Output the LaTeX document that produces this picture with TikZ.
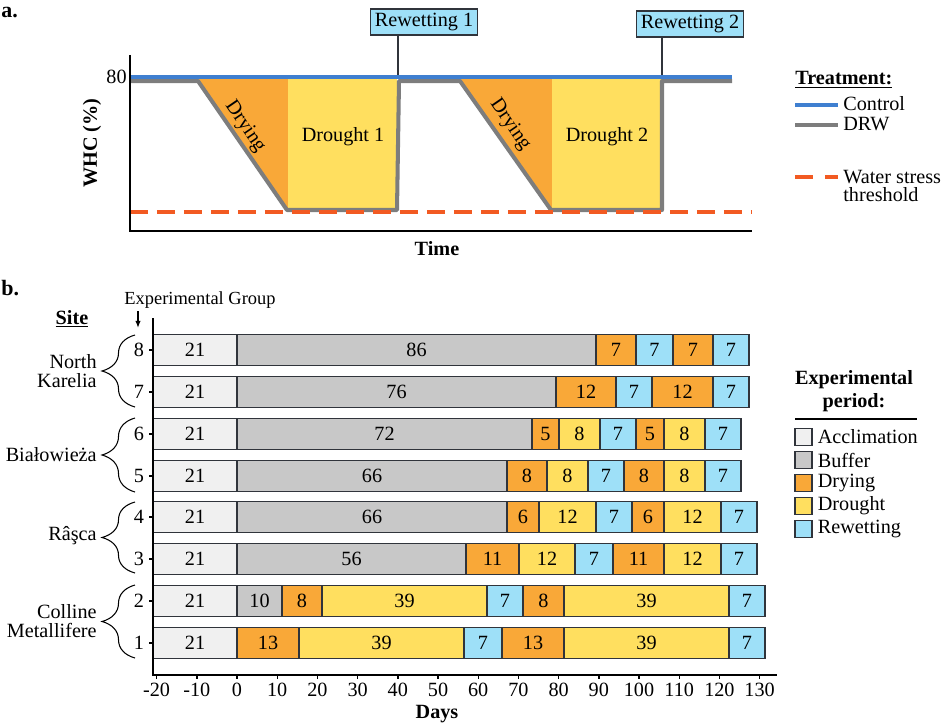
\documentclass[tikz,border=0pt]{standalone}
\usepackage{fontspec}
\setmainfont{Liberation Serif}
\usepackage{tikz}
\usetikzlibrary{arrows.meta,calc,positioning,decorations.pathreplacing}
\definecolor{accgray}{HTML}{F0F0F0}
\definecolor{bufgray}{HTML}{C8C8C8}
\definecolor{dryorange}{HTML}{F9A838}
\definecolor{drtyellow}{HTML}{FFDF5F}
\definecolor{rewblue}{HTML}{9EE0F8}
\definecolor{ctrlblue}{HTML}{3F7FD0}
\definecolor{drwgray}{HTML}{7D7D7D}
\definecolor{stressred}{HTML}{F25A22}
\definecolor{darkgray}{HTML}{30343B}
\tikzset{
  txt/.style={font=\fontsize{11.5}{13}\selectfont, inner sep=0pt},
  bold/.style={txt, font=\fontsize{11.5}{13}\selectfont\bfseries},
  axisline/.style={black, line width=0.8pt},
  ctrlline/.style={ctrlblue, line width=2.4pt},
  drwline/.style={drwgray, line width=2.3pt, line join=round},
  stressline/.style={stressred, line width=2.3pt, dash pattern=on 0.36cm off 0.18cm},
  rewbox/.style={txt, draw=darkgray, fill=rewblue, inner xsep=2.5pt, minimum height=0.52cm, line width=0.6pt},
  segbox/.style={draw=darkgray, line width=0.6pt},
  sitebrace/.style={decorate, decoration={brace, amplitude=0.66cm}, line width=0.6pt},
  legbox/.style={draw=darkgray, line width=0.6pt, minimum size=0.34cm, inner sep=0pt}
}

\begin{document}
\begin{tikzpicture}[x=0.02cm, y=-0.02cm]
  \useasboundingbox (0,0) rectangle (945,726);
  \node[bold, anchor=west, font=\fontsize{12.5}{14}\selectfont\bfseries] (panela) at (1,13) {a.};
  \fill[dryorange] (198,79) -- (288,79) -- (288,210) -- (287,210) -- cycle;
  \fill[drtyellow] (288,79) rectangle (397,210);
  \fill[dryorange] (460,79) -- (552,79) -- (552,210) -- (551,210) -- cycle;
  \fill[drtyellow] (552,79) rectangle (662,210);
  \draw[drwline] (130,81) -- (198,81) -- (287,210) -- (397,210) -- (399,81) -- (460,81) -- (551,210) -- (662,210) -- (662,81) -- (732,81);
  \node[txt, rotate=-55.6] (dry1) at (245,127) {Drying};
  \node[txt, rotate=-55.6] (dry2) at (510,125) {Drying};
  \node[txt] (drt1) at (343,137) {Drought 1};
  \node[txt] (drt2) at (607,137) {Drought 2};
  \node[rewbox] (rw1) at (424,22) {Rewetting 1};
  \node[rewbox] (rw2) at (690,24) {Rewetting 2};
  \coordinate (rw1foot) at (398,77);
  \coordinate (rw2foot) at (662,77);
  \draw[darkgray, line width=0.6pt] (rw1.south -| rw1foot) -- (rw1foot);
  \draw[darkgray, line width=0.6pt] (rw2.south -| rw2foot) -- (rw2foot);
  \draw[ctrlline] (130,77) -- (732,77);
  \draw[stressline] (130,212) -- (752,212);
  \draw[axisline] (130,55) -- (130,231) -- (752,231);
  \node[txt, anchor=east] (whc80) at (127,77) {80};
  \node[bold, rotate=90] (whc) at (92,143) {WHC (\%)};
  \node[bold] (time) at (437,249) {Time};
  \node[bold, anchor=west] (treat) at (795,80) {\underline{Treatment:}};
  \coordinate (ctrlkey) at (795,105);
  \coordinate (drwkey) at (795,125);
  \coordinate (stresskey) at (795,177);
  \draw[ctrlline] (ctrlkey) -- ++(43,0);
  \draw[drwline] (drwkey) -- ++(43,0);
  \draw[stressline, dash pattern=on 0.36cm off 0.24cm] (stresskey) -- ++(43,0);
  \node[txt, anchor=west] (ctrltxt) at (843,104) {Control};
  \node[txt, anchor=west] (drwtxt) at (843,124) {DRW};
  \node[txt, anchor=west, align=left, font=\fontsize{11.5}{10.5}\selectfont] (stresstxt) at (843,186) {Water stress\\threshold};

  \node[bold, anchor=west, font=\fontsize{12.5}{14}\selectfont\bfseries] (panelb) at (1,288) {b.};
  \node[txt, font=\fontsize{10.5}{12}\selectfont] (expgrp) at (200,300) {Experimental Group};
  \node[bold] (site) at (72,319) {\underline{Site}};
  \coordinate (grparrow) at (138,328);
  \draw[-{Latex[length=4pt]}, line width=0.7pt] (138,311) -- (grparrow);
  \foreach \g/\y/\segs in {
    8/350/{153/237/accgray/21,237/596/bufgray/86,596/636/dryorange/7,636/673/rewblue/7,673/713/dryorange/7,713/749/rewblue/7},
    7/392/{153/237/accgray/21,237/556/bufgray/76,556/616/dryorange/12,616/652/rewblue/7,652/713/dryorange/12,713/749/rewblue/7},
    6/434/{153/237/accgray/21,237/532/bufgray/72,532/559/dryorange/5,559/600/drtyellow/8,600/636/rewblue/7,636/664/dryorange/5,664/705/drtyellow/8,705/741/rewblue/7},
    5/476/{153/237/accgray/21,237/507/bufgray/66,507/547/dryorange/8,547/588/drtyellow/8,588/624/rewblue/7,624/664/dryorange/8,664/705/drtyellow/8,705/741/rewblue/7},
    4/517/{153/237/accgray/21,237/507/bufgray/66,507/539/dryorange/6,539/596/drtyellow/12,596/632/rewblue/7,632/664/dryorange/6,664/721/drtyellow/12,721/757/rewblue/7},
    3/559/{153/237/accgray/21,237/466/bufgray/56,466/519/dryorange/11,519/575/drtyellow/12,575/613/rewblue/7,613/664/dryorange/11,664/721/drtyellow/12,721/757/rewblue/7},
    2/601/{153/237/accgray/21,237/282/bufgray/10,282/322/dryorange/8,322/487/drtyellow/39,487/523/rewblue/7,523/564/dryorange/8,564/729/drtyellow/39,729/765/rewblue/7},
    1/643/{153/237/accgray/21,237/299/dryorange/13,299/464/drtyellow/39,464/502/rewblue/7,502/564/dryorange/13,564/729/drtyellow/39,729/765/rewblue/7}}{
    \draw[axisline] (149,\y) -- (153,\y);
    \node[txt] (grp\g) at (139,\y) {\g};
    \foreach \a/\b/\c/\n [count=\i] in \segs{
      \draw[segbox, fill=\c] (\a,\y-15.5) rectangle (\b,\y+15.5);
      \node[txt] (bar\g-\i) at ({(\a+\b)/2},\y) {\n};
    }
  }
  \draw[axisline] (153,318) -- (153,675) -- (777,675);
  \foreach \d in {-20,-10,...,130}{
    \pgfmathsetmacro{\tx}{237+4.02*\d}
    \draw[axisline] (\tx,675) -- (\tx,679);
    \node[txt] (tick\d) at (\tx,690) {\d};
  }
  \node[bold] (days) at (437,714) {Days};
  \draw[sitebrace] (135,407) -- (135,335);
  \draw[sitebrace] (135,492) -- (135,418);
  \draw[sitebrace] (135,573) -- (135,502);
  \draw[sitebrace] (135,658) -- (135,585);
  \node[txt, anchor=east, align=right, font=\fontsize{11.5}{10.5}\selectfont] (karelia) at (97,371) {North\\Karelia};
  \node[txt, anchor=east] (bialowieza) at (97,455) {Białowieża};
  \node[txt, anchor=east] (rasca) at (97,536) {Râşca};
  \node[txt, anchor=east, align=right, font=\fontsize{11.5}{10.5}\selectfont] (metallifere) at (97,621) {Colline\\Metallifere};
  \node[bold, align=center, font=\fontsize{11.5}{13}\selectfont\bfseries] (periodhead) at (854,391) {Experimental\\period:};
  \coordinate (periodrule) at (795,419);
  \draw[black, line width=0.8pt] (periodrule) -- ++(122,0);
  \foreach \c/\t [count=\i] in {accgray/Acclimation,bufgray/Buffer,dryorange/Drying,drtyellow/Drought,rewblue/Rewetting}{
    \node[legbox, fill=\c] (key\i) at (803.5,{414+23*\i}) {};
    \node[txt, right=0.1cm of key\i] (keytxt\i) {\t};
  }
\end{tikzpicture}
\end{document}
